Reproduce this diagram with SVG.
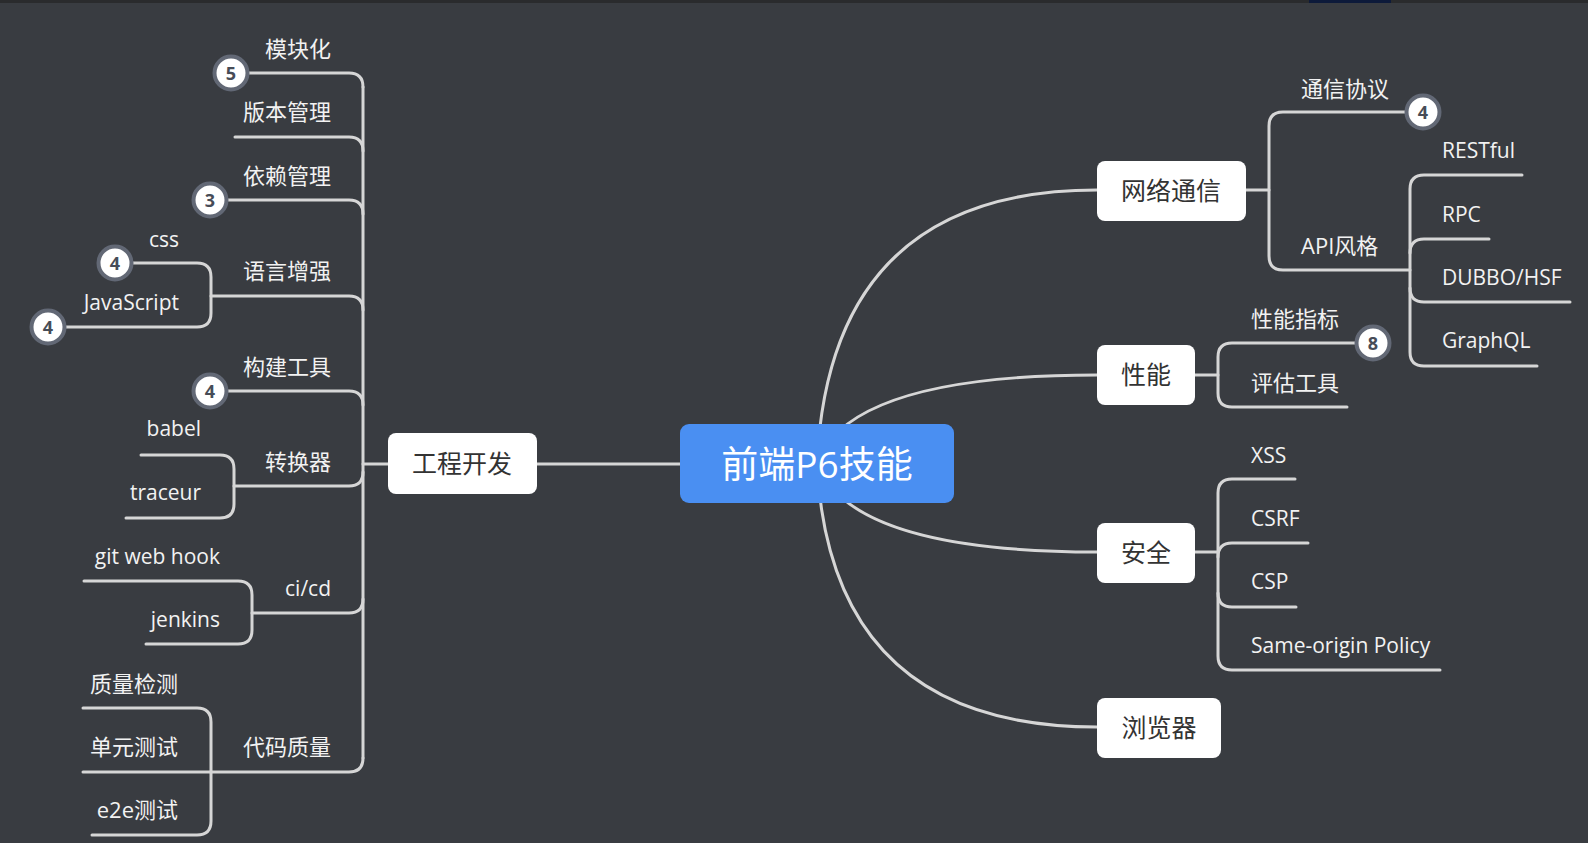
<svg xmlns="http://www.w3.org/2000/svg" width="1588" height="843" viewBox="0 0 1588 843">
<style>
.bg{fill:#393c41}
.ln{fill:none;stroke:#d6d6d6;stroke-width:3;stroke-linecap:round}
.box{fill:#ffffff}
.t{font-family:"Open Sans","Noto Sans CJK SC",sans-serif;fill:#f2f2f2;dominant-baseline:central}
.zh{font-size:22px}
.en{font-size:21px}
.end{text-anchor:end}
.nt{font-family:"Open Sans","Noto Sans CJK SC",sans-serif;fill:#333333;font-size:25px;text-anchor:middle;dominant-baseline:central}
.badge circle{fill:#ffffff;stroke:#626875;stroke-width:4}
.badge text{font-family:"Open Sans",sans-serif;font-weight:bold;font-size:18px;fill:#474c57;text-anchor:middle;dominant-baseline:central}
</style>
<rect class="bg" x="0" y="0" width="1588" height="843"/>
<rect x="0" y="0" width="1588" height="3" fill="#2a2b2d"/>
<rect x="1309" y="0" width="82" height="3" fill="#0d1a3a"/>

<g id="connectors">
  <path class="ln" d="M817,463 Q830,190 1097,190"/>
  <path class="ln" d="M817,463 Q850,375 1097,375"/>
  <path class="ln" d="M817,463 Q850,552 1097,552"/>
  <path class="ln" d="M817,463 Q830,727 1097,727"/>
  <path class="ln" d="M537,464 H680"/>
  <path class="ln" d="M363,464 H388"/>
  <path class="ln" d="M363,87 V758"/>
  <path class="ln" d="M231,73 H349 Q363,73 363,87"/>
  <path class="ln" d="M235,137 H349 Q363,137 363,151"/>
  <path class="ln" d="M210,200 H349 Q363,200 363,214"/>
  <path class="ln" d="M211,296 H349 Q363,296 363,310"/>
  <path class="ln" d="M210,391 H349 Q363,391 363,405"/>
  <path class="ln" d="M234,486 H349 Q363,486 363,472"/>
  <path class="ln" d="M252,613 H349 Q363,613 363,599"/>
  <path class="ln" d="M211,772 H349 Q363,772 363,758"/>
  <path class="ln" d="M115,263 H197 Q211,263 211,277 V313 Q211,327 197,327 H48"/>
  <path class="ln" d="M141,455 H220 Q234,455 234,469 V504 Q234,518 220,518 H126"/>
  <path class="ln" d="M84,581 H238 Q252,581 252,595 V630 Q252,644 238,644 H146"/>
  <path class="ln" d="M83,708 H197 Q211,708 211,722 V821 Q211,835 197,835 H92"/>
  <path class="ln" d="M83,772 H211"/>
  <path class="ln" d="M1246,190 H1269"/>
  <path class="ln" d="M1423,112 H1283 Q1269,112 1269,126 V256 Q1269,270 1283,270 H1410"/>
  <path class="ln" d="M1522,175 H1424 Q1410,175 1410,189 V352 Q1410,366 1424,366 H1537"/>
  <path class="ln" d="M1410,253 Q1410,239 1424,239 H1489"/>
  <path class="ln" d="M1410,288 Q1410,302 1424,302 H1570"/>
  <path class="ln" d="M1195,375 H1218"/>
  <path class="ln" d="M1373,343 H1232 Q1218,343 1218,357 V393 Q1218,407 1232,407 H1347"/>
  <path class="ln" d="M1195,552 H1218"/>
  <path class="ln" d="M1295,479 H1232 Q1218,479 1218,493 V656 Q1218,670 1232,670 H1440"/>
  <path class="ln" d="M1218,557 Q1218,543 1232,543 H1308"/>
  <path class="ln" d="M1218,593 Q1218,607 1232,607 H1296"/>
</g>

<g id="center">
  <rect x="680" y="424" width="274" height="79" rx="9" fill="#4a8ff2"/>
  <text x="817" y="463" font-family="'Open Sans','Noto Sans CJK SC',sans-serif" font-size="37" fill="#ffffff" text-anchor="middle" dominant-baseline="central">前端P6技能</text>
</g>

<g id="n-gcfk"><rect class="box" x="388" y="433" width="149" height="61" rx="8"/><text class="nt" x="462" y="463">工程开发</text></g>
<g id="n-wltx"><rect class="box" x="1097" y="161" width="149" height="60" rx="8"/><text class="nt" x="1171" y="190">网络通信</text></g>
<g id="n-xn"><rect class="box" x="1097" y="345" width="98" height="60" rx="8"/><text class="nt" x="1146" y="374">性能</text></g>
<g id="n-aq"><rect class="box" x="1097" y="523" width="98" height="60" rx="8"/><text class="nt" x="1146" y="552">安全</text></g>
<g id="n-llq"><rect class="box" x="1097" y="698" width="124" height="60" rx="8"/><text class="nt" x="1159" y="727">浏览器</text></g>

<g id="n-mkh"><text class="t zh end" x="331" y="48">模块化</text><g class="badge"><circle cx="231" cy="73" r="16.5"/><text x="231" y="73">5</text></g></g>
<g id="n-bbgl"><text class="t zh end" x="331" y="111">版本管理</text></g>
<g id="n-ylgl"><text class="t zh end" x="331" y="175">依赖管理</text><g class="badge"><circle cx="210" cy="200" r="16.5"/><text x="210" y="200">3</text></g></g>
<g id="n-yyzq"><text class="t zh end" x="331" y="270">语言增强</text></g>
<g id="n-css"><text class="t en end" x="179" y="239">css</text><g class="badge"><circle cx="115" cy="263" r="16.5"/><text x="115" y="263">4</text></g></g>
<g id="n-js"><text class="t en end" x="179" y="302">JavaScript</text><g class="badge"><circle cx="48" cy="327" r="16.5"/><text x="48" y="327">4</text></g></g>
<g id="n-gjgj"><text class="t zh end" x="331" y="366">构建工具</text><g class="badge"><circle cx="210" cy="391" r="16.5"/><text x="210" y="391">4</text></g></g>
<g id="n-zhq"><text class="t zh end" x="331" y="461">转换器</text></g>
<g id="n-babel"><text class="t en end" x="201" y="428">babel</text></g>
<g id="n-traceur"><text class="t en end" x="201" y="492">traceur</text></g>
<g id="n-cicd"><text class="t en end" x="331" y="588">ci/cd</text></g>
<g id="n-git"><text class="t en end" x="220" y="556">git web hook</text></g>
<g id="n-jenkins"><text class="t en end" x="220" y="619">jenkins</text></g>
<g id="n-dmzl"><text class="t zh end" x="331" y="746">代码质量</text></g>
<g id="n-zljc"><text class="t zh end" x="178" y="683">质量检测</text></g>
<g id="n-dycs"><text class="t zh end" x="178" y="746">单元测试</text></g>
<g id="n-e2e"><text class="t zh end" x="178" y="809">e2e测试</text></g>

<g id="n-txxy"><text class="t zh" x="1301" y="88">通信协议</text><g class="badge"><circle cx="1423" cy="112" r="16.5"/><text x="1423" y="112">4</text></g></g>
<g id="n-apifg"><text class="t zh" x="1301" y="245">API风格</text></g>
<g id="n-restful"><text class="t en" x="1442" y="150">RESTful</text></g>
<g id="n-rpc"><text class="t en" x="1442" y="214">RPC</text></g>
<g id="n-dubbo"><text class="t en" x="1442" y="277">DUBBO/HSF</text></g>
<g id="n-graphql"><text class="t en" x="1442" y="340">GraphQL</text></g>
<g id="n-xnzb"><text class="t zh" x="1251" y="318">性能指标</text><g class="badge"><circle cx="1373" cy="343" r="16.5"/><text x="1373" y="343">8</text></g></g>
<g id="n-pggj"><text class="t zh" x="1251" y="382">评估工具</text></g>
<g id="n-xss"><text class="t en" x="1251" y="455">XSS</text></g>
<g id="n-csrf"><text class="t en" x="1251" y="518">CSRF</text></g>
<g id="n-csp"><text class="t en" x="1251" y="581">CSP</text></g>
<g id="n-sop"><text class="t en" x="1251" y="645">Same-origin Policy</text></g>
</svg>
